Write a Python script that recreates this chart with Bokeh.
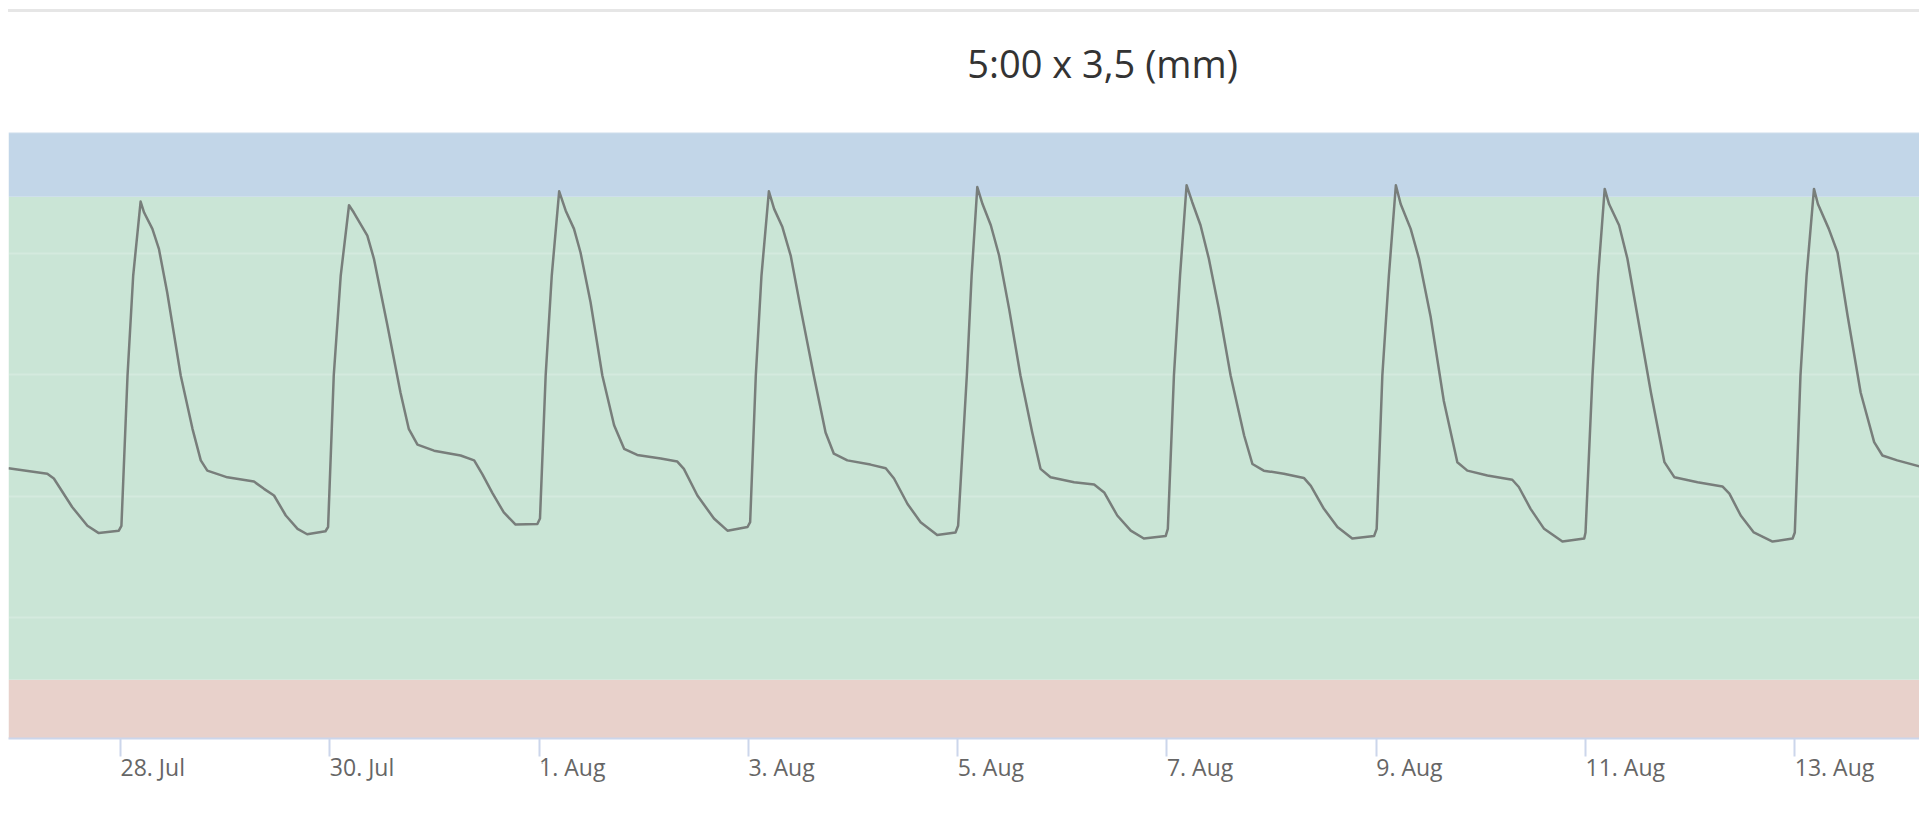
import pandas as pd
from bokeh.plotting import figure
from bokeh.models import (BoxAnnotation, FixedTicker, Range1d, Div,
                          DatetimeTickFormatter)
from bokeh.layouts import column
from bokeh.embed import file_html
from bokeh.resources import INLINE

# ---------------- data ----------------
title_text = "5:00 x 3,5 (mm)"
base_time = "2023-07-26 00:00"

# hours after base_time
hours = [
    22.3, 31.2, 32.7, 36.9, 40.4, 43.0, 47.6, 48.2, 49.6, 50.9,
    52.6, 53.4, 55.3, 56.8, 58.7, 61.8, 64.5, 66.4, 67.9, 72.5,
    78.6, 80.9, 83.2, 85.9, 88.6, 90.8, 95.0, 95.6, 96.9, 98.5,
    100.4, 101.5, 104.6, 106.1, 109.2, 112.2, 114.1, 116.1, 119.9, 126.0,
    129.1, 131.0, 133.3, 135.9, 138.6, 143.6, 144.2, 145.5, 146.9, 148.6,
    150.1, 152.0, 153.5, 155.8, 158.5, 161.2, 163.5, 166.5, 171.9, 175.7,
    177.2, 180.3, 184.1, 187.2, 191.8, 192.4, 193.7, 195.0, 196.7, 197.9,
    199.8, 201.7, 204.0, 207.0, 209.7, 211.6, 214.7, 220.0, 223.5, 225.4,
    228.5, 231.5, 235.3, 239.5, 240.1, 242.1, 243.2, 244.5, 245.7, 247.6,
    249.5, 251.8, 254.4, 257.1, 259.0, 261.3, 266.7, 271.3, 273.6, 276.6,
    279.7, 282.7, 287.7, 288.2, 289.6, 291.0, 292.5, 293.8, 295.7, 297.6,
    299.9, 302.6, 305.7, 307.6, 310.2, 314.8, 319.4, 321.0, 324.0, 327.1,
    330.5, 335.5, 336.1, 337.4, 338.9, 340.5, 341.6, 343.9, 345.8, 348.5,
    351.5, 354.6, 356.9, 361.5, 367.2, 368.7, 371.4, 374.5, 378.7, 383.7,
    384.0, 385.6, 386.9, 388.4, 389.4, 391.7, 393.6, 395.9, 399.0, 402.1,
    404.4, 409.7, 415.4, 417.0, 419.6, 422.6, 426.9, 431.5, 432.0, 433.3,
    434.7, 436.4, 437.3, 439.8, 441.8, 444.1, 447.1, 450.2, 452.1, 455.5,
    460.6,
]
levels = [
    44.6, 43.7, 42.9, 38.2, 35.1, 33.9, 34.3, 35.1, 59.9, 76.4,
    88.6, 86.8, 84.1, 80.8, 73.6, 59.9, 51.1, 45.9, 44.2, 43.1,
    42.4, 41.2, 40.1, 36.8, 34.6, 33.7, 34.2, 34.9, 59.9, 76.4,
    88.0, 86.8, 83.0, 79.2, 68.2, 57.1, 51.1, 48.5, 47.5, 46.7,
    45.9, 43.6, 40.5, 37.3, 35.3, 35.4, 36.3, 59.9, 76.4, 90.3,
    87.1, 84.1, 80.2, 72.0, 59.9, 51.7, 47.8, 46.8, 46.2, 45.7,
    44.5, 40.1, 36.3, 34.3, 34.9, 35.7, 59.9, 76.4, 90.3, 87.4,
    84.4, 79.7, 70.9, 59.9, 50.5, 47.0, 45.9, 45.2, 44.6, 42.9,
    38.7, 35.7, 33.6, 34.0, 35.1, 59.9, 76.4, 91.0, 88.2, 84.7,
    79.7, 70.9, 59.9, 50.5, 44.5, 43.1, 42.3, 41.9, 40.6, 36.8,
    34.3, 33.0, 33.4, 34.6, 59.9, 76.4, 91.3, 88.5, 84.7, 79.2,
    70.9, 59.9, 50.0, 45.3, 44.2, 43.7, 43.0, 41.7, 37.9, 34.9,
    33.0, 33.4, 34.6, 59.9, 76.4, 91.3, 88.2, 84.1, 79.2, 69.5,
    55.7, 45.6, 44.2, 43.4, 42.7, 41.5, 37.9, 34.6, 32.5, 33.0,
    34.0, 59.9, 76.4, 90.7, 88.2, 84.7, 79.2, 69.8, 57.1, 45.6,
    43.1, 42.3, 41.6, 40.4, 36.8, 34.0, 32.5, 33.0, 34.0, 59.9,
    76.4, 90.7, 88.2, 84.1, 80.2, 69.8, 57.1, 48.9, 46.7, 45.9,
    44.9,
]

tick_dates = ["2023-07-28", "2023-07-30", "2023-08-01", "2023-08-03", "2023-08-05",
              "2023-08-07", "2023-08-09", "2023-08-11", "2023-08-13"]
view_hours = [22.3, 460.6]
y_limits = [0, 106.44]          # plot bands occupy 0..100, white space above
grid_values = [0, 20, 40, 60, 80, 100]
band_red = [0, 9.7]
band_green = [9.7, 89.4]
band_blue = [89.4, 100]

# ---------------- build ----------------
W, H = 1911, 790
base = pd.Timestamp(base_time)
times = base + pd.to_timedelta(hours, unit="h")
x_start = base + pd.Timedelta(hours=view_hours[0])
x_end = base + pd.Timedelta(hours=view_hours[1])
tick_times = [pd.Timestamp(d) for d in tick_dates]

p = figure(width=W, height=H, x_axis_type="datetime",
           x_range=Range1d(x_start, x_end), y_range=Range1d(*y_limits),
           output_backend="svg", toolbar_location=None,
           min_border_left=0, min_border_right=0,
           min_border_top=81, min_border_bottom=64,
           margin=(0, 0, 0, 8))
p.outline_line_color = None
p.background_fill_color = "white"
p.border_fill_color = "white"

p.title.text = title_text
p.title.text_font = "Open Sans"
p.title.text_font_size = "38px"
p.title.text_font_style = "normal"
p.title.text_color = "#333333"
p.title.align = "left"
p.title.offset = 958.7
p.title.standoff = 10

for lo_hi, col in ((band_red, "#e8d1cb"), (band_green, "#cae5d6"), (band_blue, "#c2d6e8")):
    p.add_layout(BoxAnnotation(bottom=lo_hi[0], top=lo_hi[1], fill_color=col,
                               fill_alpha=1.0, line_color=None, level="image"))

p.yaxis.visible = False
p.xgrid.visible = False
p.ygrid.ticker = FixedTicker(ticks=grid_values)
p.ygrid.grid_line_color = "white"
p.ygrid.grid_line_alpha = 0.2
p.ygrid.grid_line_width = 2

tick_ms = [t.value / 1e6 for t in tick_times]
p.xaxis.ticker = FixedTicker(ticks=tick_ms)
p.xaxis.formatter = DatetimeTickFormatter(days="%-d. %b", months="%-d. %b")
p.xaxis.axis_line_color = "#ccd6eb"
p.xaxis.axis_line_width = 2
p.xaxis.major_tick_line_color = "#ccd6eb"
p.xaxis.major_tick_line_width = 2
p.xaxis.major_tick_out = 18
p.xaxis.major_tick_in = 0
p.xaxis.minor_tick_line_color = None
p.xaxis.major_label_text_font = "Open Sans"
p.xaxis.major_label_text_font_size = "23px"
p.xaxis.major_label_text_color = "#666666"
# a vanishingly small negative angle makes Bokeh anchor each label at its left edge
p.xaxis.major_label_orientation = -0.0001
p.xaxis.major_label_standoff = 10

p.line(times, levels, line_color="#787e7b", line_width=2.5, line_join="round")

top_rule = Div(text="", width=W, height=3, margin=(9, 0, 0, 8),
               styles={"background-color": "#e6e6e6"})

layout = column(top_rule, p, spacing=0)
open("out.html", "w").write(file_html(layout, INLINE))
